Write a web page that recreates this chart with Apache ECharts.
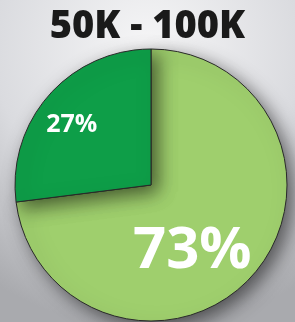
<!DOCTYPE html>
<html><head><meta charset="utf-8">
<script src="https://cdn.jsdelivr.net/npm/echarts@6/dist/echarts.min.js"></script>
<style>html,body{margin:0;padding:0;}#c{width:295px;height:322px;}</style>
</head><body><div id="c"></div>
<script>
const title = '50K - 100K';
const categories = ['73%', '27%'];
const values = [73, 27];
const colors = ['#9fcf6d', '#0e9e48'];

const chart = echarts.init(document.getElementById('c'));
chart.setOption({
  backgroundColor: {
    type: 'radial', x: 0.5, y: 0.15, r: 0.95,
    colorStops: [{offset: 0, color: '#f6f6f7'}, {offset: 0.55, color: '#dadbdf'}, {offset: 1, color: '#a9aaae'}]
  },
  title: {
    text: title, left: 'center', top: 3,
    textStyle: {fontFamily: 'Open Sans', fontWeight: 800, fontSize: 38, color: '#1a1a1a'}
  },
  series: [{
    type: 'pie',
    center: [151, 185],
    radius: 136,
    startAngle: 90,
    clockwise: true,
    animation: false,
    silent: true,
    itemStyle: {borderColor: '#2a2a2a', borderWidth: 1, shadowBlur: 18, shadowColor: 'rgba(0,0,0,0.55)', shadowOffsetX: 6, shadowOffsetY: 6},
    label: {show: true, position: 'inside', color: '#fff', fontFamily: 'Open Sans', fontWeight: 'bold', formatter: '{b}'},
    labelLine: {show: false},
    data: categories.map((c, i) => ({
      name: c, value: values[i],
      itemStyle: {color: colors[i]},
      label: i === 0 ? {fontSize: 58, offset: [-12, 20]} : {fontSize: 25, offset: [-26, -13]}
    }))
  }]
});
</script></body></html>
